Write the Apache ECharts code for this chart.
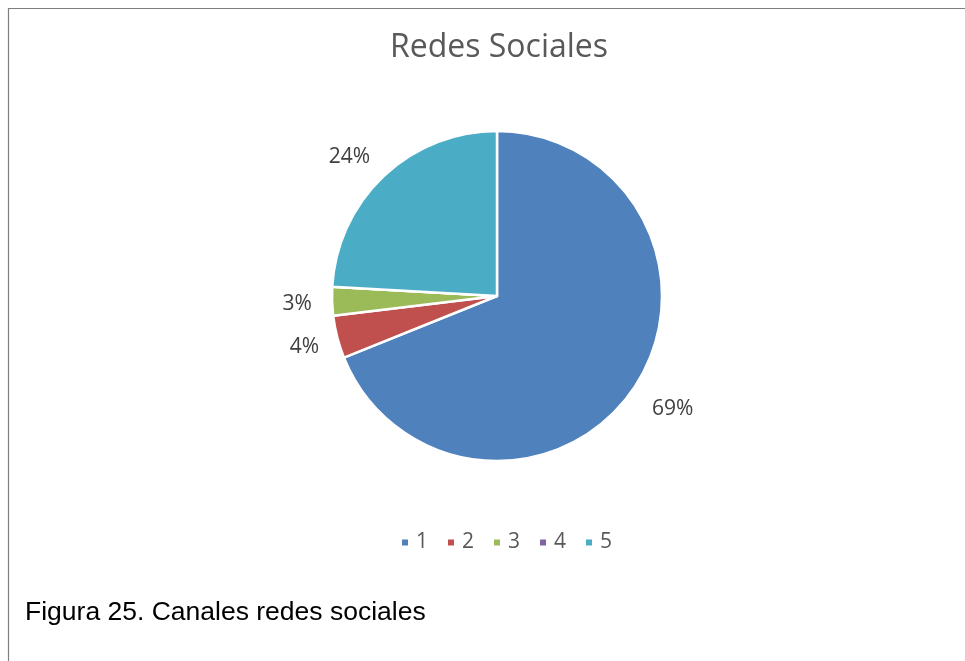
<!DOCTYPE html>
<html><head><meta charset="utf-8">
<script src="https://cdn.jsdelivr.net/npm/echarts@6/dist/echarts.min.js"></script>
<style>html,body{margin:0;padding:0;background:#fff}#c{width:965px;height:661px}</style>
</head><body><div id="c"></div>
<script>
const categories = ['1', '2', '3', '4', '5'];
const values = [68.9, 4.2, 2.8, 0, 24.1];
const colors = ['#4F81BD', '#C0504D', '#9BBB59', '#8064A2', '#4BACC6'];
const titleText = 'Redes Sociales';
const captionText = 'Figura 25. Canales redes sociales';

const chart = echarts.init(document.getElementById('c'), null, {renderer: 'canvas'});
const total = values.reduce((a, b) => a + b, 0);
const pieData = categories.map((c, i) => ({name: c, value: values[i]}));
// small label nudges (styling only) to mimic the original best-fit placement
const labelNudge = [[5, -2], [7, 0], [6, 2], [0, 0], [-6, 11]];
chart.setOption({
  animation: false,
  color: colors,
  legend: {
    data: categories, top: 532, left: 400, padding: 0,
    icon: 'rect', itemWidth: 8, itemHeight: 8, itemGap: 18,
    textStyle: {fontFamily: 'Open Sans', fontSize: 21, color: '#595959', padding: [0, 0, 0, 2]}
  },
  graphic: [
    {type: 'rect', shape: {x: 8.5, y: 8.5, width: 1000, height: 700}, style: {fill: 'none', stroke: '#7f7f7f', lineWidth: 1.2}, silent: true},
    {type: 'text', x: 499, y: 48, style: {text: titleText, font: '32px "Open Sans"', fill: '#595959', align: 'center', verticalAlign: 'middle'}, silent: true},
    {type: 'text', x: 25, y: 613, style: {text: captionText, font: '26.5px "Liberation Sans"', fill: '#000', align: 'left', verticalAlign: 'middle'}, silent: true}
  ],
  series: [{
    type: 'pie',
    center: [497, 296],
    radius: 165,
    startAngle: 90,
    clockwise: true,
    itemStyle: {borderColor: '#fff', borderWidth: 2.5},
    label: {show: false},
    labelLine: {show: false},
    data: pieData
  }, {
    type: 'pie',
    center: [497, 296],
    radius: [198, 208],
    startAngle: 90,
    clockwise: true,
    silent: true,
    legendHoverLink: false,
    itemStyle: {color: 'rgba(0,0,0,0)', borderWidth: 0},
    emphasis: {disabled: true},
    label: {
      show: true, position: 'inside',
      fontFamily: 'Open Sans', fontSize: 21, color: '#404040',
      formatter: p => p.value > 0 ? Math.round(p.value / total * 100) + '%' : ''
    },
    labelLine: {show: false},
    data: pieData.map((d, i) => ({name: d.name, value: d.value, label: {offset: labelNudge[i]}}))
  }]
});
</script></body></html>
